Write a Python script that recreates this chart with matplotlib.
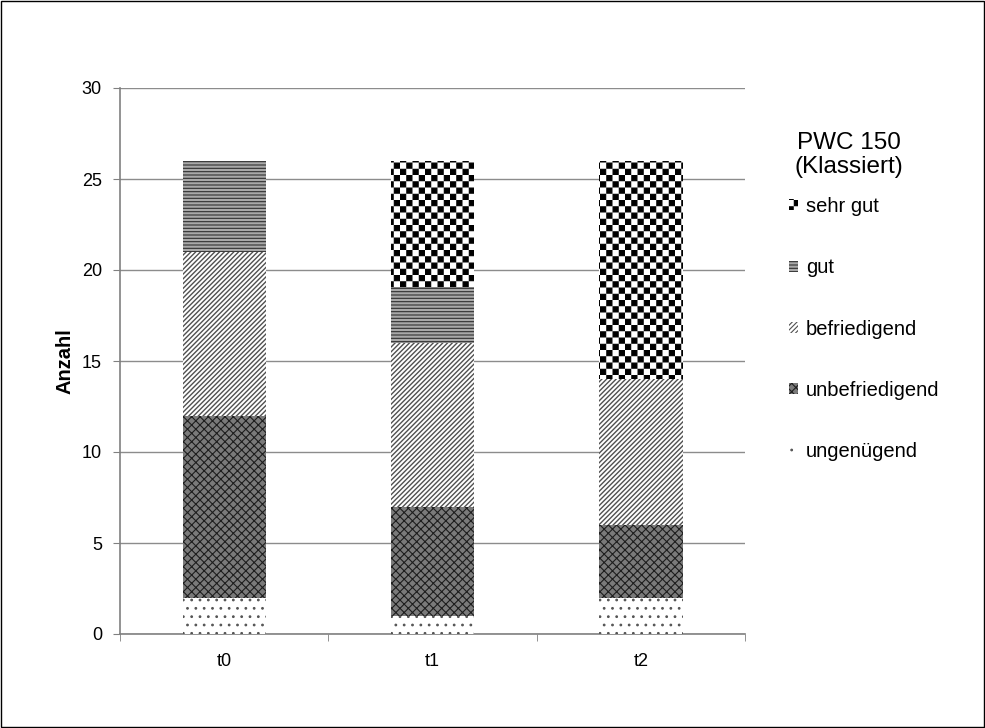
import numpy as np
import matplotlib
matplotlib.use("Agg")
import matplotlib.pyplot as plt
import matplotlib.hatch as mhatch
from matplotlib.path import Path
from matplotlib.patches import Rectangle
import warnings

plt.rcParams['font.family'] = ['Liberation Sans', 'DejaVu Sans']
plt.rcParams['hatch.linewidth'] = 0.8
warnings.filterwarnings("ignore")

# ---- data ----
categories = ["t0", "t1", "t2"]
series_names = ["ungenügend", "unbefriedigend", "befriedigend", "gut", "sehr gut"]
ungenuegend = [2, 1, 2]
unbefriedigend = [10, 6, 4]
befriedigend = [9, 9, 8]
gut = [5, 3, 0]
sehr_gut = [0, 7, 12]
y_ticks = [0, 5, 10, 15, 20, 25, 30]
legend_title = "PWC 150\n(Klassiert)"
y_label = "Anzahl"


# ---- custom checkerboard hatch ('c') ----
class CheckerHatch(mhatch.HatchPatternBase):
    def __init__(self, hatch, density):
        self.n = hatch.count('c') * 8
        self.num_vertices = ((self.n * self.n + 1) // 2) * 5 if self.n else 0

    def set_vertices_and_codes(self, vertices, codes):
        n = self.n
        s = 1.0 / n
        inset = 0.09 * s
        k = 0
        for i in range(n):
            for j in range(n):
                if (i + j) % 2 == 0:
                    x0, y0 = i * s + inset, j * s + inset
                    x1, y1 = (i + 1) * s - inset, (j + 1) * s - inset
                    vertices[k:k + 5] = [(x0, y0), (x1, y0), (x1, y1), (x0, y1), (x0, y0)]
                    codes[k:k + 5] = [Path.MOVETO, Path.LINETO, Path.LINETO,
                                      Path.LINETO, Path.CLOSEPOLY]
                    k += 5


mhatch._hatch_types.append(CheckerHatch)

styles = {
    "ungenügend": dict(facecolor="white", hatch="..", edgecolor="#555555", hlw=0.8),
    "unbefriedigend": dict(facecolor="#7a7a7a", hatch="xxxx", edgecolor="#1e1e1e", hlw=0.8),
    "befriedigend": dict(facecolor="white", hatch="///////", edgecolor="#505050", hlw=1.0),
    "gut": dict(facecolor="#a8a8a8", hatch="-----", edgecolor="#303030", hlw=0.8),
    "sehr gut": dict(facecolor="white", hatch="cc", edgecolor="black", hlw=0.8),
}
values = {
    "ungenügend": ungenuegend,
    "unbefriedigend": unbefriedigend,
    "befriedigend": befriedigend,
    "gut": gut,
    "sehr gut": sehr_gut,
}

fig = plt.figure(figsize=(9.85, 7.28), dpi=100)
ax = fig.add_axes([120 / 985, (728 - 634) / 728, 625 / 985, 546 / 728])

x = np.arange(len(categories))
bottom = np.zeros(len(categories))
handles = {}
for name in series_names:
    vals = np.array(values[name], dtype=float)
    st = styles[name]
    with plt.rc_context({'hatch.linewidth': st["hlw"]}):
        bars = ax.bar(x, vals, width=0.40, bottom=bottom, facecolor=st["facecolor"],
                      hatch=st["hatch"], edgecolor=st["edgecolor"], linewidth=0,
                      label=name, zorder=3)
    for p in bars:
        if hasattr(p, "set_hatch_linewidth"):
            p.set_hatch_linewidth(st["hlw"])
    handles[name] = bars
    bottom += vals

ax.set_xlim(-0.5, len(categories) - 0.5)
ax.set_ylim(0, 30)
ax.set_yticks(y_ticks)
ax.set_xticks(x)
ax.set_xticklabels(categories)
ax.set_xticks(np.arange(len(categories) + 1) - 0.5, minor=True)
ax.tick_params(axis='x', which='major', length=0, labelsize=13, pad=14)
ax.tick_params(axis='x', which='minor', length=5, direction='out', color='#808080')
ax.tick_params(axis='y', length=5, direction='out', color='#808080', labelsize=13, pad=8)
ax.yaxis.grid(True, color='#8c8c8c', linewidth=1.0, zorder=0)
ax.set_axisbelow(True)
for sp in ['top', 'right']:
    ax.spines[sp].set_visible(False)
for sp in ['left', 'bottom']:
    ax.spines[sp].set_color('#808080')
    ax.spines[sp].set_linewidth(1.2)
ax.set_ylabel(y_label, fontsize=14.5, fontweight='bold', labelpad=5)

# legend
order = list(reversed(series_names))
leg = fig.legend([handles[n] for n in order], order,
                 loc='upper left', bbox_to_anchor=(789 / 985, 1 - 197 / 728),
                 frameon=False, fontsize=14.5, handlelength=0.45, handleheight=0.45,
                 handletextpad=0.4, labelspacing=2.1, borderaxespad=0, borderpad=0)
fig.text(849 / 985, 1 - 155 / 728, legend_title, ha='center', va='center',
         fontsize=17.5, linespacing=1.15)

# figure border
fig.patches.append(Rectangle((0.001, 0.001), 0.998, 0.998, transform=fig.transFigure,
                             fill=False, edgecolor='black', linewidth=1.0))

fig.savefig("out.png", dpi=100)
